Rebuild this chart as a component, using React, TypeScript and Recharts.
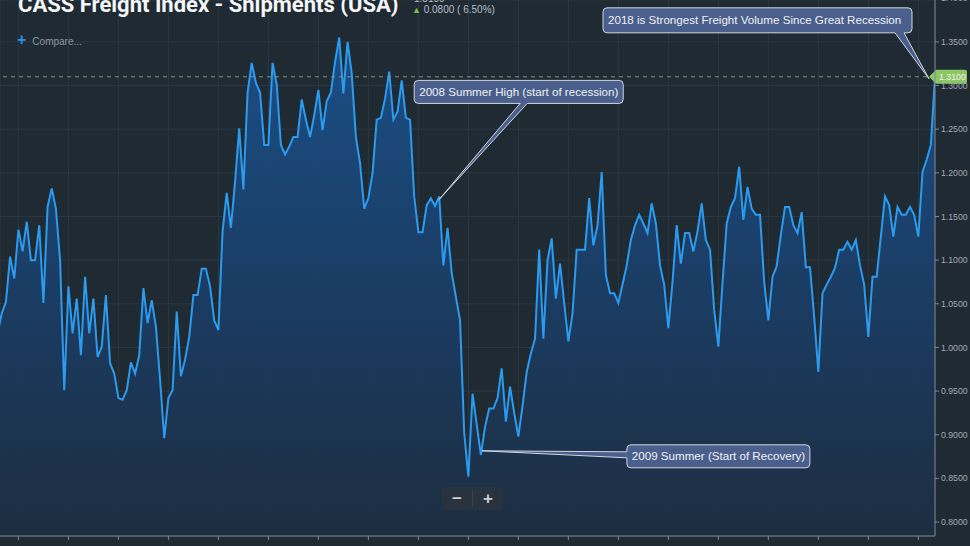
import React from 'react';
import { AreaChart, Area, XAxis, YAxis, CartesianGrid, ReferenceLine, ReferenceDot } from 'recharts';

// CASS Freight Index - Shipments (USA), monthly, Aug 1999 .. May 2018
const START_YEAR = 1999;
const START_MONTH = 7; // August (0-based)

const shipments = [
  1.016, 1.039, 1.052, 1.104, 1.079, 1.135, 1.110, 1.144, 1.100, 1.100,
  1.140, 1.051, 1.161, 1.182, 1.159, 1.100, 0.951, 1.070, 1.016, 1.056,
  0.991, 1.081, 1.016, 1.056, 0.989, 1.001, 1.060, 0.982, 0.970, 0.942,
  0.940, 0.951, 0.983, 0.970, 0.991, 1.068, 1.028, 1.054, 1.024, 0.963,
  0.896, 0.942, 0.951, 1.041, 0.967, 0.986, 1.012, 1.060, 1.060, 1.090,
  1.090, 1.070, 1.031, 1.020, 1.133, 1.177, 1.137, 1.190, 1.251, 1.181,
  1.292, 1.326, 1.303, 1.292, 1.232, 1.232, 1.326, 1.301, 1.232, 1.221,
  1.230, 1.241, 1.241, 1.284, 1.261, 1.241, 1.266, 1.295, 1.249, 1.282,
  1.292, 1.327, 1.355, 1.291, 1.350, 1.314, 1.241, 1.211, 1.159, 1.171,
  1.200, 1.261, 1.263, 1.285, 1.316, 1.261, 1.270, 1.306, 1.263, 1.261,
  1.173, 1.132, 1.132, 1.163, 1.171, 1.162, 1.173, 1.094, 1.137, 1.085,
  1.058, 1.031, 0.902, 0.852, 0.947, 0.912, 0.877, 0.909, 0.930, 0.930,
  0.942, 0.976, 0.915, 0.955, 0.925, 0.898, 0.933, 0.972, 0.993, 1.010,
  1.112, 1.010, 1.100, 1.125, 1.056, 1.096, 1.051, 1.007, 1.039, 1.112,
  1.112, 1.112, 1.171, 1.117, 1.140, 1.201, 1.083, 1.062, 1.062, 1.051,
  1.072, 1.094, 1.123, 1.140, 1.152, 1.142, 1.131, 1.165, 1.142, 1.094,
  1.072, 1.022, 1.075, 1.140, 1.096, 1.131, 1.131, 1.110, 1.133, 1.165,
  1.123, 1.112, 1.043, 1.001, 1.074, 1.142, 1.161, 1.171, 1.207, 1.146,
  1.184, 1.159, 1.152, 1.152, 1.075, 1.031, 1.081, 1.093, 1.129, 1.161,
  1.161, 1.140, 1.131, 1.155, 1.092, 1.092, 1.035, 0.972, 1.062, 1.072,
  1.081, 1.091, 1.112, 1.112, 1.121, 1.112, 1.123, 1.094, 1.072, 1.012,
  1.081, 1.081, 1.127, 1.173, 1.163, 1.127, 1.161, 1.152, 1.152, 1.161,
  1.152, 1.127, 1.201, 1.215, 1.232, 1.310,
];

// January of each year, as month index
const yearTicks = [5, 17, 29, 41, 53, 65, 77, 89, 101, 113, 125, 137, 149, 161, 173, 185, 197, 209, 221];
const indexTicks = [0.8, 0.85, 0.9, 0.95, 1.0, 1.05, 1.1, 1.15, 1.2, 1.25, 1.3, 1.35, 1.4];

const noteIdx = [225, 106, 116];
const noteText = [
  '2018 is Strongest Freight Volume Since Great Recession',
  '2008 Summer High (start of recession)',
  '2009 Summer (Start of Recovery)',
];

const last = shipments[shipments.length - 1];

const data = shipments.map((v, i) => {
  const m = START_MONTH + i;
  return { i, month: `${START_YEAR + Math.floor(m / 12)}-${String((m % 12) + 1).padStart(2, '0')}`, v };
});

// box placement relative to the annotated point
const callouts = [
  { dx: -332, dy: -69, w: 309, h: 25, side: 'bottom', b1: -40, b2: -31, tx: -6, ty: 2 },
  { dx: -25, dy: -116, w: 209, h: 23, side: 'bottom', b1: 81, b2: 88, tx: 0, ty: 3 },
  { dx: 146, dy: -10, w: 183, h: 23, side: 'left', b1: -3, b2: 3, tx: 1, ty: -4 },
];

function calloutPath(x: number, y: number, w: number, h: number, side: string, b1: number, b2: number, tx: number, ty: number) {
  const r = 4;
  const top = `M${x + r},${y} H${x + w - r} Q${x + w},${y} ${x + w},${y + r} V${y + h - r} Q${x + w},${y + h} ${x + w - r},${y + h}`;
  if (side === 'bottom') {
    return `${top} H${b2} L${tx},${ty} L${b1},${y + h} H${x + r} Q${x},${y + h} ${x},${y + h - r} V${y + r} Q${x},${y} ${x + r},${y} Z`;
  }
  return `${top} H${x + r} Q${x},${y + h} ${x},${y + h - r} V${b2} L${tx},${ty} L${x},${b1} V${y + r} Q${x},${y} ${x + r},${y} Z`;
}

function Callout({ cx, cy, n }: any) {
  const c = callouts[n];
  const x = cx + c.dx;
  const y = cy + c.dy;
  const b1 = c.side === 'bottom' ? cx + c.b1 : cy + c.b1;
  const b2 = c.side === 'bottom' ? cx + c.b2 : cy + c.b2;
  return (
    <g>
      <path
        d={calloutPath(x, y, c.w, c.h, c.side, b1, b2, cx + c.tx, cy + c.ty)}
        fill="#4b5f8c"
        stroke="#cfd6e0"
        strokeWidth={1}
      />
      <text x={x + 5} y={y + c.h / 2 + 4} fill="#eef1f5" fontSize={11.6} fontFamily="'Liberation Sans', Arial, sans-serif">
        {noteText[n]}
      </text>
    </g>
  );
}

function PriceTag(props: any) {
  const vb = props.viewBox || {};
  const tip = vb.x + vb.width - 6;
  const y = vb.y;
  return (
    <g>
      <path
        d={`M${tip},${y} L${tip + 7},${y - 7} H${tip + 36} Q${tip + 38},${y - 7} ${tip + 38},${y - 5} V${y + 5} Q${tip + 38},${y + 7} ${tip + 36},${y + 7} H${tip + 7} Z`}
        fill="#8cc665"
      />
      <text x={tip + 10} y={y + 3.2} fill="#eef7e6" fontSize={8.8} fontFamily="'Liberation Sans', Arial, sans-serif">
        {last.toFixed(4)}
      </text>
    </g>
  );
}

export default function App() {
  return (
    <div style={{ position: 'fixed', left: 0, top: 0, width: 970, height: 546, background: '#1f2a33', overflow: 'hidden' }}>
      <AreaChart width={970} height={546} data={data} margin={{ top: 0, right: 0, bottom: 0, left: 0 }}>
        <defs>
          <linearGradient id="cassFill" gradientUnits="userSpaceOnUse" x1="0" y1="30" x2="0" y2="536">
            <stop offset="0%" stopColor="#1a5390" />
            <stop offset="55%" stopColor="#1a3d66" />
            <stop offset="100%" stopColor="#1d2e42" />
          </linearGradient>
        </defs>
        <CartesianGrid stroke="#2a3845" strokeWidth={1} />
        <XAxis
          dataKey="i"
          type="number"
          domain={[0.58, 225]}
          allowDataOverflow
          ticks={yearTicks}
          interval={0}
          height={10}
          tick={() => <g />}
          tickSize={4}
          tickLine={{ stroke: '#7e8891' }}
          axisLine={{ stroke: '#7e8891' }}
        />
        <YAxis
          orientation="right"
          type="number"
          domain={[0.784, 1.398]}
          allowDataOverflow
          ticks={indexTicks}
          interval={0}
          width={35}
          tickSize={4}
          tickFormatter={(v: number) => v.toFixed(4)}
          tick={{ fill: '#a3abb3', fontSize: 8.7, fontFamily: "'Liberation Sans', Arial, sans-serif" }}
          tickLine={{ stroke: '#7e8891' }}
          axisLine={{ stroke: '#7e8891' }}
        />
        <Area
          type="linear"
          dataKey="v"
          stroke="#2b9bf0"
          strokeWidth={2}
          fill="url(#cassFill)"
          fillOpacity={0.9}
          dot={false}
          activeDot={false}
          isAnimationActive={false}
        />
        <ReferenceLine
          y={last}
          stroke="#7f9479"
          strokeDasharray="4 4"
          label={(p: any) => <PriceTag {...p} />}
        />
        {noteIdx.map((idx, n) => (
          <ReferenceDot
            key={n}
            x={idx}
            y={shipments[idx]}
            ifOverflow="visible"
            shape={(p: any) => <Callout cx={p.cx} cy={p.cy} n={n} />}
          />
        ))}
      </AreaChart>

      <div style={{ position: 'absolute', left: 18, top: -7, fontFamily: 'Roboto, sans-serif', fontWeight: 700, fontSize: 22, lineHeight: '24px', color: '#f4f6f8', whiteSpace: 'nowrap' }}>
        CASS Freight Index - Shipments (USA)
      </div>
      <div style={{ position: 'absolute', left: 414, top: -7, fontFamily: "'Liberation Sans', Arial, sans-serif", fontSize: 10, lineHeight: '12px', color: '#b7bec5' }}>
        {last.toFixed(4)}
      </div>
      <div style={{ position: 'absolute', left: 412, top: 4, fontFamily: "'Liberation Sans', Arial, sans-serif", fontSize: 10, lineHeight: '12px', color: '#b7bec5', whiteSpace: 'nowrap' }}>
        <span style={{ color: '#7cc242', fontSize: 9 }}>▲</span> 0.0800 ( 6.50%)
      </div>
      <div style={{ position: 'absolute', left: 17, top: 32, fontFamily: "'Liberation Sans', Arial, sans-serif", fontSize: 10, lineHeight: '16px', color: '#8e979f', whiteSpace: 'nowrap' }}>
        <span style={{ color: '#2f8fe0', fontSize: 16, fontWeight: 700, marginRight: 6 }}>+</span>Compare...
      </div>
      <div style={{ position: 'absolute', left: 442, top: 487, width: 61, height: 23, background: '#28333d', borderRadius: 3, display: 'flex', alignItems: 'center', fontFamily: "'Liberation Sans', Arial, sans-serif", color: '#c8cfd6', fontWeight: 700, fontSize: 17 }}>
        <div style={{ width: 30, textAlign: 'center', borderRight: '1px solid #38434e', lineHeight: '17px' }}>−</div>
        <div style={{ width: 30, textAlign: 'center', lineHeight: '17px' }}>+</div>
      </div>
    </div>
  );
}
